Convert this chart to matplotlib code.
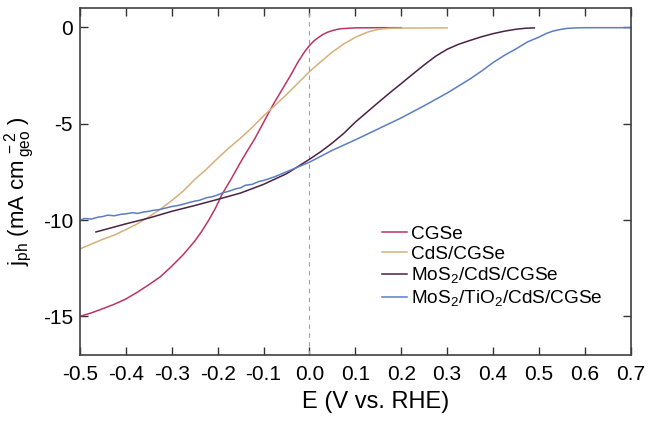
import matplotlib
matplotlib.use("Agg")
import matplotlib.pyplot as plt

plt.rcParams["font.family"] = ["Liberation Sans", "DejaVu Sans"]
plt.rcParams["axes.unicode_minus"] = False
plt.rcParams["mathtext.fontset"] = "custom"
plt.rcParams["mathtext.rm"] = "Liberation Sans"

# CGSe
e_cgse = [-0.5, -0.475, -0.45, -0.425, -0.4, -0.375, -0.35, -0.325, -0.3, -0.275,
          -0.25, -0.235, -0.22, -0.205, -0.19, -0.17, -0.15, -0.135, -0.12, -0.1,
          -0.08, -0.06, -0.04, -0.025, -0.01, 0.0, 0.01, 0.02, 0.03, 0.04,
          0.05, 0.06, 0.07, 0.1, 0.15, 0.2]
j_cgse = [-15.0, -14.82, -14.6, -14.37, -14.1, -13.75, -13.36, -12.95, -12.4, -11.8,
          -11.1, -10.6, -10.03, -9.4, -8.65, -7.85, -7.0, -6.4, -5.82, -4.94,
          -4.05, -3.25, -2.45, -1.8, -1.25, -0.95, -0.7, -0.52, -0.36, -0.25,
          -0.17, -0.11, -0.07, -0.03, -0.02, -0.02]

# CdS/CGSe
e_cds = [-0.5, -0.475, -0.45, -0.425, -0.4, -0.375, -0.35, -0.325, -0.3, -0.275,
         -0.25, -0.225, -0.2, -0.175, -0.15, -0.125, -0.1, -0.075, -0.05, -0.025,
         0.0, 0.025, 0.05, 0.075, 0.1, 0.125, 0.15, 0.175, 0.2, 0.3]
j_cds = [-11.5, -11.25, -11.0, -10.78, -10.5, -10.2, -9.84, -9.45, -8.99, -8.5,
         -7.9, -7.38, -6.8, -6.25, -5.75, -5.2, -4.6, -4.05, -3.49, -2.9,
         -2.3, -1.78, -1.28, -0.86, -0.52, -0.26, -0.1, -0.05, -0.04, -0.03]

# MoS2/CdS/CGSe
e_mos = [-0.465, -0.4, -0.35, -0.3, -0.25, -0.2, -0.15, -0.1, -0.05, 0.0,
         0.025, 0.05, 0.075, 0.1, 0.125, 0.15, 0.175, 0.2, 0.225, 0.25,
         0.275, 0.3, 0.325, 0.35, 0.375, 0.4, 0.425, 0.45, 0.47, 0.49]
j_mos = [-10.62, -10.2, -9.9, -9.55, -9.25, -8.93, -8.6, -8.15, -7.6, -6.85,
         -6.45, -6.0, -5.5, -4.92, -4.41, -3.9, -3.4, -2.92, -2.43, -1.95,
         -1.5, -1.14, -0.88, -0.68, -0.49, -0.33, -0.2, -0.1, -0.05, -0.03]

# MoS2/TiO2/CdS/CGSe
e_tio = [-0.5, -0.49, -0.475, -0.46, -0.45, -0.44, -0.425, -0.41, -0.4, -0.385,
         -0.375, -0.36, -0.35, -0.34, -0.325, -0.31, -0.3, -0.285, -0.275, -0.26,
         -0.25, -0.24, -0.225, -0.21, -0.2, -0.19, -0.175, -0.16, -0.15, -0.14,
         -0.125, -0.11, -0.1, -0.075, -0.05, -0.025, 0.0, 0.05, 0.1, 0.15,
         0.2, 0.25, 0.3, 0.35, 0.375, 0.4, 0.425, 0.45, 0.475, 0.5,
         0.515, 0.53, 0.545, 0.56, 0.58, 0.6, 0.65, 0.7]
j_tio = [-10.02, -9.92, -9.95, -9.85, -9.82, -9.75, -9.78, -9.7, -9.68, -9.62,
         -9.66, -9.58, -9.55, -9.5, -9.45, -9.36, -9.3, -9.24, -9.18, -9.08,
         -9.02, -8.98, -8.85, -8.78, -8.7, -8.6, -8.5, -8.38, -8.33, -8.2,
         -8.15, -8.0, -7.95, -7.75, -7.5, -7.25, -7.0, -6.38, -5.84, -5.27,
         -4.7, -4.07, -3.41, -2.68, -2.27, -1.83, -1.45, -1.12, -0.76, -0.51,
         -0.33, -0.2, -0.12, -0.06, -0.03, -0.02, -0.02, -0.02]

series = [
    (e_cgse, j_cgse, "CGSe", "#bd3461"),
    (e_cds, j_cds, "CdS/CGSe", "#d6b07c"),
    (e_mos, j_mos, "MoS$_2$/CdS/CGSe", "#4a2344"),
    (e_tio, j_tio, "MoS$_2$/TiO$_2$/CdS/CGSe", "#5b7ec2"),
]

x_ticks = [-0.5, -0.4, -0.3, -0.2, -0.1, 0.0, 0.1, 0.2, 0.3, 0.4, 0.5, 0.6, 0.7]
y_ticks = [0, -5, -10, -15]

fig = plt.figure(figsize=(6.55, 4.23), dpi=100)
ax = fig.add_axes([0.122, 0.161, 0.841, 0.820])

ax.axvline(0, color="#a0a0a0", linestyle=(0, (4, 4)), linewidth=0.8)

for e, j, label, color in series:
    ax.plot(e, j, color=color, linewidth=1.1, label=label)

ax.set_xlim(-0.5, 0.7)
ax.set_ylim(-17, 1)
ax.set_xticks(x_ticks)
ax.set_xticklabels([f"{t:.1f}" for t in x_ticks])
ax.set_yticks(y_ticks)
ax.tick_params(direction="in", length=6, width=1, top=True, right=True,
               labelsize=15, colors="#333333", labelcolor="black")
ax.tick_params(axis="x", pad=7)
ax.tick_params(axis="y", pad=5)
for s in ax.spines.values():
    s.set_color("#404040")
    s.set_linewidth(1.2)

ax.set_xlabel("E (V vs. RHE)", fontsize=17)
ax.xaxis.set_label_coords(0.537, -0.105)
ax.set_ylabel(r"j$_{\mathrm{ph}}$ (mA cm$^{\,-2}_{\,\mathrm{geo}}$ )", fontsize=16)
ax.yaxis.set_label_coords(-0.078, 0.471)

ax.legend(loc="upper left", bbox_to_anchor=(0.548, 0.373), frameon=False,
          fontsize=13.7, handlelength=1.3, handletextpad=0.25, labelspacing=0.15,
          borderpad=0, borderaxespad=0)

fig.savefig("out.png", dpi=100)
